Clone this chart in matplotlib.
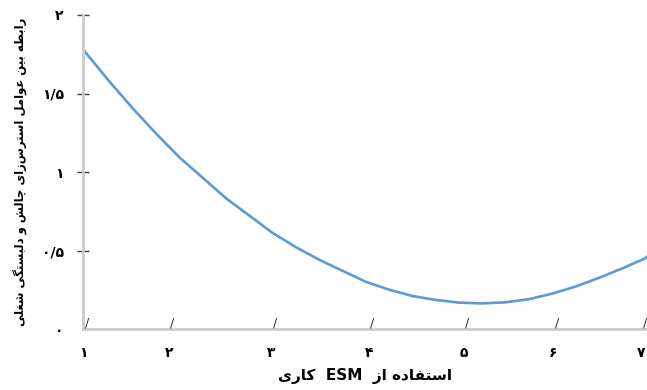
import matplotlib
matplotlib.use('Agg')
import matplotlib.pyplot as plt
import matplotlib.transforms as mtransforms

# curve readings (x on the 1..7 scale, y value)
x_vals = [0.96, 1.0, 1.25, 1.5, 1.75, 2.0, 2.25, 2.5, 2.75, 3.0, 3.25, 3.5, 3.75,
          4.0, 4.25, 4.5, 4.75, 5.0, 5.25, 5.5, 5.75, 6.0, 6.25, 6.5, 6.75, 7.0, 7.02]
y_vals = [1.78, 1.75, 1.57, 1.40, 1.24, 1.09, 0.96, 0.83, 0.72, 0.61, 0.52, 0.44, 0.37,
          0.30, 0.25, 0.21, 0.185, 0.168, 0.163, 0.17, 0.19, 0.225, 0.27, 0.325, 0.385, 0.45, 0.46]

x_tick_pos = [1, 1.92, 3.02, 4.07, 5.09, 6.05, 7.0]
x_tick_labels = ['۱', '۲', '۳', '۴', '۵', '۶', '۷']
y_ticks = [0, 0.5, 1, 1.5, 2]
y_tick_labels = ['۰', '۰/۵', '۱', '۱/۵', '۲']

x_title = 'استفاده از  ESM  کاری'
y_title = 'رابطه بین عوامل استرس\u200cزای چالش و دلبستگی شغلی'

# matplotlib does no arabic shaping, so map letters to presentation forms
# (isolated, final, initial, medial)
FORMS = {
    '\u0627': ('\uFE8D', '\uFE8E', None, None),
    '\u0628': ('\uFE8F', '\uFE90', '\uFE91', '\uFE92'),
    '\u062A': ('\uFE95', '\uFE96', '\uFE97', '\uFE98'),
    '\u062F': ('\uFEA9', '\uFEAA', None, None),
    '\u0631': ('\uFEAD', '\uFEAE', None, None),
    '\u0632': ('\uFEAF', '\uFEB0', None, None),
    '\u0633': ('\uFEB1', '\uFEB2', '\uFEB3', '\uFEB4'),
    '\u0634': ('\uFEB5', '\uFEB6', '\uFEB7', '\uFEB8'),
    '\u0637': ('\uFEC1', '\uFEC2', '\uFEC3', '\uFEC4'),
    '\u0639': ('\uFEC9', '\uFECA', '\uFECB', '\uFECC'),
    '\u063A': ('\uFECD', '\uFECE', '\uFECF', '\uFED0'),
    '\u0641': ('\uFED1', '\uFED2', '\uFED3', '\uFED4'),
    '\u0644': ('\uFEDD', '\uFEDE', '\uFEDF', '\uFEE0'),
    '\u0645': ('\uFEE1', '\uFEE2', '\uFEE3', '\uFEE4'),
    '\u0646': ('\uFEE5', '\uFEE6', '\uFEE7', '\uFEE8'),
    '\u0647': ('\uFEE9', '\uFEEA', '\uFEEB', '\uFEEC'),
    '\u0648': ('\uFEED', '\uFEEE', None, None),
    '\u0686': ('\uFB7A', '\uFB7B', '\uFB7C', '\uFB7D'),
    '\u06A9': ('\uFB8E', '\uFB8F', '\uFB90', '\uFB91'),
    '\u06AF': ('\uFB92', '\uFB93', '\uFB94', '\uFB95'),
    '\u06CC': ('\uFBFC', '\uFBFD', '\uFBFE', '\uFBFF'),
}


def fa(text):
    words = []
    for word in text.split(' '):
        if not any(c in FORMS for c in word):
            words.append(word)
            continue
        res = []
        for i, c in enumerate(word):
            if c not in FORMS:
                if c != '\u200c':
                    res.append(c)
                continue
            prev = word[i - 1] if i > 0 else ''
            nxt = word[i + 1] if i + 1 < len(word) else ''
            jp = prev in FORMS and FORMS[prev][2] is not None
            jn = FORMS[c][2] is not None and nxt in FORMS
            iso, fin, ini, med = FORMS[c]
            if jp and jn:
                res.append(med)
            elif jp:
                res.append(fin)
            elif jn:
                res.append(ini)
            else:
                res.append(iso)
        words.append(''.join(reversed(res)))
    return ' '.join(reversed(words))


plt.rcParams['font.family'] = ['DejaVu Sans']

fig = plt.figure(figsize=(6.47, 3.9), dpi=100)
ax = fig.add_axes([83 / 647, 61 / 390, 564 / 647, 314 / 390])

ax.plot(x_vals, y_vals, color='#5b9bd5', linewidth=1.9, solid_joinstyle='round')

ax.set_xlim(0.957, 7.02)
ax.set_ylim(0, 2)

for s in ['top', 'right']:
    ax.spines[s].set_visible(False)
for s in ['left', 'bottom']:
    ax.spines[s].set_color('#cccccc')
    ax.spines[s].set_linewidth(2)

ax.set_yticks(y_ticks, y_tick_labels, fontsize=10, fontweight='bold')
ax.tick_params(axis='y', direction='inout', length=8, width=1, color='#404040', pad=10)
ax.yaxis.get_major_ticks()[0].tick1line.set_visible(False)

ax.set_xticks(x_tick_pos, x_tick_labels, fontsize=10, fontweight='bold')
ax.tick_params(axis='x', length=0, pad=12)
shift = mtransforms.ScaledTranslation(-4 / 100, 0, fig.dpi_scale_trans)
for lab in ax.get_xticklabels():
    lab.set_transform(lab.get_transform() + shift)

# slash marks sitting on the x axis
for xp in x_tick_pos:
    ax.annotate('/', (xp, 0), xytext=(0, 4.5), textcoords='offset points',
                ha='center', va='center', fontsize=9, color='#333333',
                annotation_clip=False)

ax.set_xlabel(fa(x_title), fontsize=11, fontweight='bold', labelpad=6)
ax.set_ylabel(fa(y_title), fontsize=8.4, fontweight='bold', labelpad=10)

fig.savefig('out.png', dpi=100)
